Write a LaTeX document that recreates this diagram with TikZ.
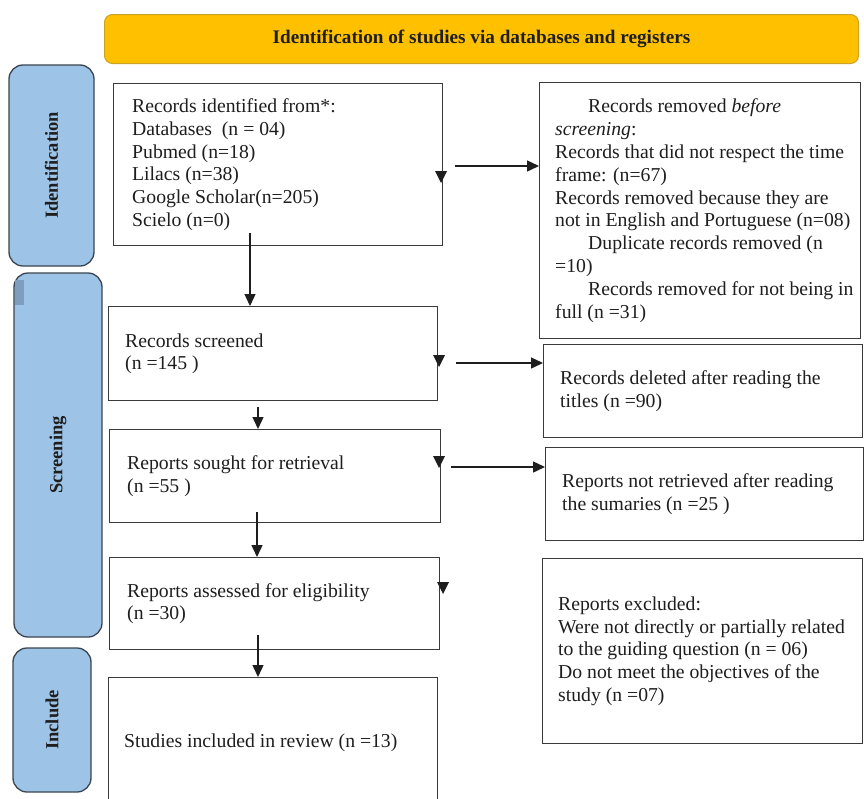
\documentclass[tikz,border=0pt]{standalone}
\usepackage{fontspec}
\setmainfont{Liberation Serif}
\usetikzlibrary{arrows.meta,calc}
\definecolor{bannerfill}{HTML}{FFC000}
\definecolor{bannerline}{HTML}{C9A227}
\definecolor{sidefill}{HTML}{9DC3E6}
\definecolor{sideline}{HTML}{3B4450}
\definecolor{sidemark}{HTML}{7F9DBF}
\definecolor{boxline}{HTML}{3A3A3A}
\definecolor{txt}{HTML}{1E1E1E}
\newcommand\dtri[2]{\fill[txt] (#1-6,#2) -- (#1+6,#2) -- (#1,#2+12) -- cycle;}
\begin{document}
\begin{tikzpicture}[x=1pt,y=-1pt,
  flowbox/.style={draw=boxline, line width=1.4pt, anchor=north west, inner sep=0pt, fill=white},
  boxtext/.style={anchor=west, align=left, inner sep=0pt, text=txt, font=\fontsize{19.7}{22.8}\selectfont},
  sidebar/.style={draw=sideline, fill=sidefill, line width=1.3pt, rounded corners=14pt, rotate=90, anchor=center, inner sep=0pt, text=txt, font=\bfseries\fontsize{18.5}{20}\selectfont},
  arr/.style={draw=txt, line width=1.4pt, -{Triangle[length=12pt,width=11pt]}}
]
\clip (0,0) rectangle (864,798);
\fill[white] (0,0) rectangle (864,798);

% banner
\node[draw=bannerline, fill=bannerfill, line width=1pt, rounded corners=8pt, minimum width=754pt, minimum height=49pt, anchor=north west, inner sep=0pt, text=txt, font=\bfseries\fontsize{19.2}{22}\selectfont] (banner) at (104,14) {Identification of studies via databases and registers};

% sidebars
\node[sidebar, minimum width=201pt, minimum height=85pt] (sid) at (51.5,165.5) {Identification};
\node[sidebar, minimum width=364pt, minimum height=88pt] (sscr) at (58,455) {Screening};
\fill[sidemark] (15,280) rectangle (24,305);
\node[sidebar, minimum width=144pt, minimum height=78pt] (sinc) at (52,720) {Include};

% left boxes
\node[flowbox, minimum width=329pt, minimum height=162pt] (b1) at (113,83) {};
\node[boxtext] (t1) at ([xshift=19pt]b1.west) {Records identified from*:\\Databases\ \ (n = 04)\\Pubmed (n=18)\\Lilacs (n=38)\\Google Scholar(n=205)\\Scielo (n=0)};

\node[flowbox, minimum width=329pt, minimum height=94pt] (b2) at (108,306) {};
\node[boxtext] (t2) at ([xshift=17pt]b2.west) {Records screened\\(n =145 )};

\node[flowbox, minimum width=331pt, minimum height=93pt] (b3) at (109,429) {};
\node[boxtext] (t3) at ([xshift=18pt]b3.west) {Reports sought for retrieval\\(n =55 )};

\node[flowbox, minimum width=330pt, minimum height=92pt] (b4) at (109,557) {};
\node[boxtext] (t4) at ([xshift=18pt]b4.west) {Reports assessed for eligibility\\(n =30)};

\node[flowbox, minimum width=329pt, minimum height=130pt] (b5) at (108,677) {};
\node[boxtext] (t5) at ([xshift=16pt]b5.west) {Studies included in review (n =13)};

% right boxes
\node[flowbox, minimum width=321pt, minimum height=256pt] (r1) at (539,82) {};
\node[boxtext] (u1) at ([xshift=16pt]r1.west) {\hspace*{33pt}Records removed \textit{before}\\\textit{screening}:\\Records that did not respect the time\\frame: (n=67)\\Records removed because they are\\not in English and Portuguese (n=08)\\\hspace*{33pt}Duplicate records removed (n\\=10)\\\hspace*{33pt}Records removed for not being in\\full (n =31)};

\node[flowbox, minimum width=319pt, minimum height=93pt] (r2) at (543,344) {};
\node[boxtext] (u2) at ([xshift=17pt]r2.west) {Records deleted after reading the\\titles (n =90)};

\node[flowbox, minimum width=318pt, minimum height=93pt] (r3) at (545,447) {};
\node[boxtext] (u3) at ([xshift=17pt]r3.west) {Reports not retrieved after reading\\the sumaries (n =25 )};

\node[flowbox, minimum width=320pt, minimum height=185pt] (r4) at (542,558) {};
\node[boxtext] (u4) at ([xshift=16pt]r4.west) {Reports excluded:\\Were not directly or partially related\\to the guiding question (n = 06)\\Do not meet the objectives of the\\study (n =07)};

% vertical connectors
\coordinate (v1) at (250,233);
\draw[arr] (v1) -- (v1 |- b2.north);
\coordinate (v2) at (258,407);
\draw[arr] (v2) -- (v2 |- b3.north);
\coordinate (v3) at (257,512);
\draw[arr] (v3) -- (v3 |- b4.north);
\coordinate (v4) at (258,635);
\draw[arr] (v4) -- (v4 |- b5.north);

% horizontal connectors
\coordinate (h1) at (455,166);
\draw[arr] (h1) -- (h1 -| r1.west);
\coordinate (h2) at (456,363);
\draw[arr] (h2) -- (h2 -| r2.west);
\coordinate (h3) at (451,467);
\draw[arr] (h3) -- (h3 -| r3.west);

% small tips on box edges
\dtri{441}{171}
\dtri{439}{355}
\dtri{439}{456}
\dtri{443}{582}
\end{tikzpicture}
\end{document}
